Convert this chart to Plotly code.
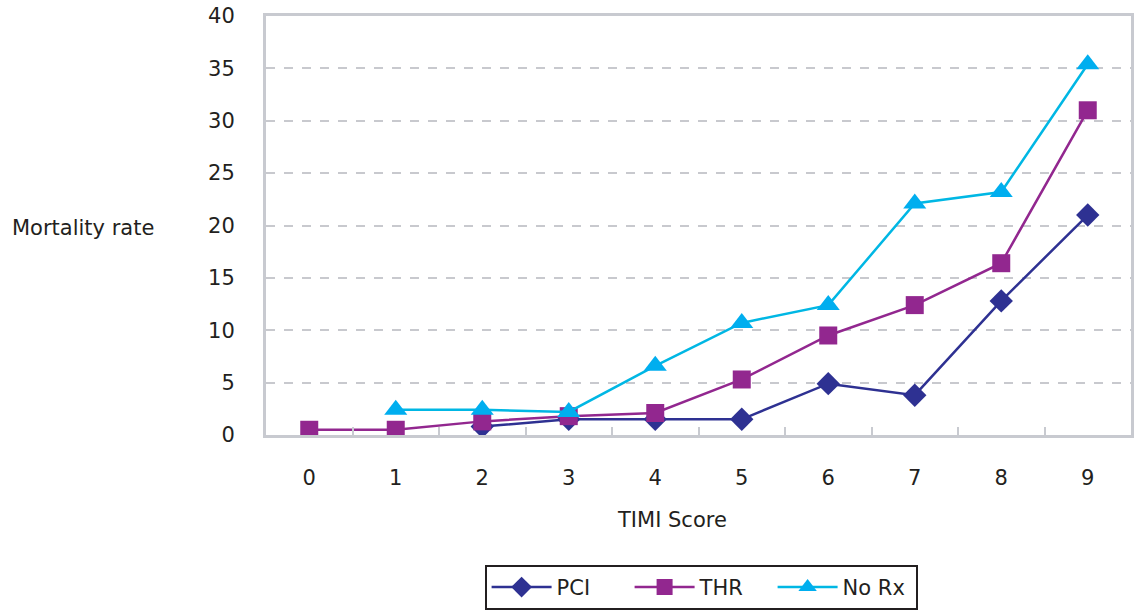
import plotly.graph_objects as go

timi = ["0", "1", "2", "3", "4", "5", "6", "7", "8", "9"]
pci_x = ["2", "3", "4", "5", "6", "7", "8", "9"]
pci = [0.8, 1.5, 1.5, 1.5, 4.9, 3.8, 12.8, 21.0]
thr_x = ["0", "1", "2", "3", "4", "5", "6", "7", "8", "9"]
thr = [0.5, 0.5, 1.3, 1.8, 2.1, 5.3, 9.5, 12.4, 16.4, 31.0]
norx_x = ["1", "2", "3", "4", "5", "6", "7", "8", "9"]
norx = [2.4, 2.4, 2.2, 6.6, 10.7, 12.4, 22.1, 23.2, 35.4]
yticks = [0, 5, 10, 15, 20, 25, 30, 35, 40]

FONT = "DejaVu Sans"
fig = go.Figure()
fig.add_trace(go.Scatter(x=pci_x, y=pci, name="PCI", mode="lines+markers",
                         line=dict(color="#2e3192", width=2.5),
                         marker=dict(symbol="diamond", size=18, color="#2e3192")))
fig.add_trace(go.Scatter(x=thr_x, y=thr, name="THR", mode="lines+markers",
                         line=dict(color="#92278f", width=2.5),
                         marker=dict(symbol="square", size=18, color="#92278f")))
fig.add_trace(go.Scatter(x=norx_x, y=norx, name="No Rx", mode="lines+markers",
                         line=dict(color="#00b7e4", width=2.5),
                         marker=dict(symbol="triangle-up", size=20, color="#00aeef")))

fig.update_layout(
    width=1135, height=610,
    margin=dict(l=266, r=4, t=16, b=175, autoexpand=False),
    paper_bgcolor="white", plot_bgcolor="white",
    font=dict(family=FONT, size=21, color="#231f20"),
    showlegend=True,
    legend=dict(orientation="h", x=0.503, xanchor="center", y=-0.31, yanchor="top",
                bordercolor="#231f20", borderwidth=2, font=dict(size=21),
                itemwidth=60, entrywidth=68),
    xaxis=dict(type="category", categoryorder="array", categoryarray=timi,
               range=[-0.5, 9.5], tickson="boundaries", ticks="inside", ticklen=8,
               tickwidth=2, tickcolor="#c8cad0", showgrid=False, automargin=False,
               showline=True, linecolor="#c8cad0", linewidth=3, mirror=True,
               ticklabelstandoff=22),
    yaxis=dict(range=[0, 40], tickvals=yticks, ticks="", showgrid=True, automargin=False,
               gridcolor="#c8c9ce", gridwidth=2, griddash="dash", zeroline=False,
               showline=True, linecolor="#c8cad0", linewidth=3, mirror=True,
               ticklabelstandoff=24),
)
fig.add_annotation(text="Mortality rate", xref="paper", yref="paper",
                   x=-266/865, xanchor="left", y=(435-228)/419, yanchor="middle",
                   xshift=10, showarrow=False, font=dict(size=21))
fig.add_annotation(text="TIMI Score", xref="paper", yref="paper",
                   x=(672-266)/865, xanchor="center", y=(435-520)/419, yanchor="middle",
                   showarrow=False, font=dict(size=21))
fig.write_html("out.html")
